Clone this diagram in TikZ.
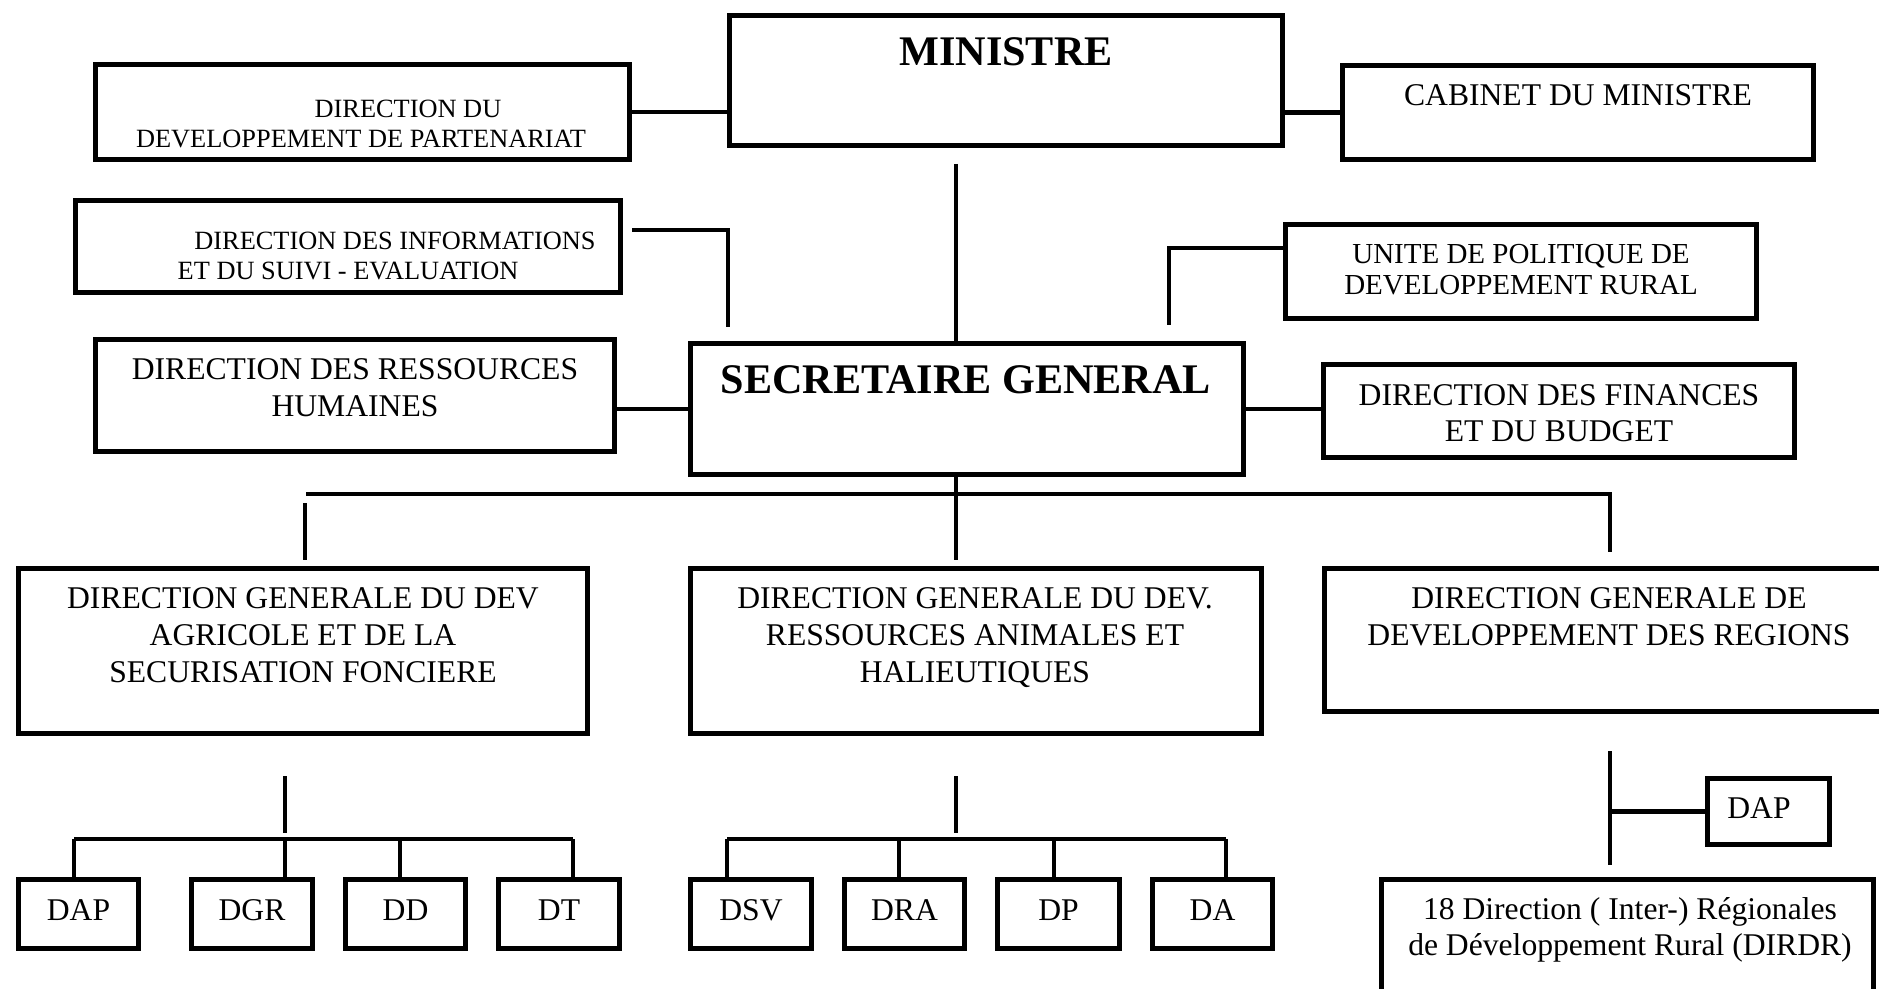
\documentclass[tikz,border=0pt]{standalone}
\usepackage{fontspec}
\setmainfont{Liberation Serif}
\tikzset{box/.style={draw, line width=0.1cm, inner sep=0pt},
 lbl/.style={anchor=base, align=center, inner sep=0pt, font=\fontsize{18}{21}\selectfont},
 titlefnt/.style={font=\fontsize{24}{28}\selectfont\bfseries},
 smallfnt/.style={font=\fontsize{15}{17.6}\selectfont},
 link/.style={draw, line width=0.085cm},
 }

\begin{document}
\begin{tikzpicture}[x=0.02cm, y=-0.02cm]
        \useasboundingbox (0,0) rectangle (1879,989);
        \clip (0,0) rectangle (1879,989);
        % boxes: name/left/top/right/bottom
        \foreach \nm/\xa/\ya/\xb/\yb in {min/727/13/1285/148, ddp/93/62/632/162, cab/1340/63/1816/162,
            dise/73/198/623/295, updr/1283/222/1759/321, sg/688/341/1246/477, drh/93/337/617/454,
            dfb/1321/362/1797/460, dga/16/566/590/736, dgb/688/566/1264/736, dgc/1322/566/1896/714,
            dapa/16/877/141/951, dgr/189/877/315/951, dd/343/877/468/951, dt/496/877/622/951,
            dsv/688/877/814/951, dra/842/877/967/951, dp/995/877/1122/951, da/1150/877/1275/951,
            dapb/1705/776/1832/847, dirdr/1379/877/1876/1010} {
            \node[box, minimum width={(\xb-\xa-5)*0.02cm}, minimum height={(\yb-\ya-5)*0.02cm}]
                (\nm) at ({(\xa+\xb)/2},{(\ya+\yb)/2}) {};
        }
        % texts (base = last line)
        \node[lbl, titlefnt] (min-t) at (1006,66) {MINISTRE};
        \node[lbl, titlefnt] (sg-t) at (966,394) {SECRETAIRE GENERAL};
        \node[lbl, smallfnt] (ddp-t) at (361,148) {\hspace*{1.88cm}DIRECTION DU\\DEVELOPPEMENT DE PARTENARIAT};
        \node[lbl, smallfnt] (dise-t) at (395,280) {DIRECTION DES INFORMATIONS\\ET DU SUIVI - EVALUATION\hspace*{1.88cm}};
        \node[lbl, font=\fontsize{16.5}{18.2}\selectfont] (updr-t) at (1521,295) {UNITE DE POLITIQUE DE\\DEVELOPPEMENT RURAL};
        \node[lbl] (cab-t) at (1578,106) {CABINET DU MINISTRE};
        \node[lbl, font=\fontsize{18}{21.5}\selectfont] (drh-t) at (355,417) {DIRECTION DES RESSOURCES\\HUMAINES};
        \node[lbl] (dfb-t) at (1559,442) {DIRECTION DES FINANCES\\ET DU BUDGET};
        \node[lbl] (dga-t) at (303,682) {DIRECTION GENERALE DU DEV\\AGRICOLE ET DE LA\\SECURISATION FONCIERE};
        \node[lbl] (dgb-t) at (975,682) {DIRECTION GENERALE DU DEV.\\RESSOURCES ANIMALES ET\\HALIEUTIQUES};
        \node[lbl] (dgc-t) at (1609,645) {DIRECTION GENERALE DE\\DEVELOPPEMENT DES REGIONS};
        \node[lbl, font=\fontsize{18}{20.4}\selectfont] (dirdr-t) at (1630,955) {18 Direction ( Inter-) Régionales\\de Développement Rural (DIRDR)};
        \node[lbl] (dapb-t) at (1759,818) {DAP};
        \coordinate (smallbase) at (0,920);
        \foreach \nm/\txt in {dapa/DAP, dgr/DGR, dd/DD, dt/DT, dsv/DSV, dra/DRA, dp/DP, da/DA} {
            \node[lbl] (\nm-t) at (\nm |- smallbase) {\txt};
        }
        % ministre and cabinet
        \draw[link] (ddp.east) -- (ddp.east -| min.west);
        \draw[link] (cab.west) -- (cab.west -| min.east);
        \coordinate (spine) at (956,164);
        \draw[link] (spine) -- (spine |- sg.north);
        % units beside the secretary
        \coordinate (diseA) at (632,230);
        \coordinate (diseB) at (728,327);
        \draw[link] (diseA) -| (diseB);
        \coordinate (updrK) at (1169,248);
        \coordinate (updrE) at (1169,325);
        \draw[link] (updr.west |- updrK) -- (updrK) -- (updrE);
        \draw[link] (sg.west) -- (sg.west -| drh.east);
        \draw[link] (sg.east) -- (sg.east -| dfb.west);
        % general directions
        \coordinate (busL) at (306,494);
        \coordinate (busR) at (1610,494);
        \coordinate (dropA) at (305,503);
        \coordinate (dropB) at (956,560);
        \coordinate (dropC) at (1610,552);
        \draw[link] (busL) -- (busR) -- (dropC);
        \draw[link] (sg.south -| spine) -- (dropB);
        \draw[link] (dropA) -- (dropA |- dropB);
        % sub directions
        \coordinate (stubA) at (285,776);
        \coordinate (stubB) at (956,776);
        \coordinate (busAl) at (74,839);
        \coordinate (busAr) at (573,839);
        \coordinate (busBl) at (727,839);
        \coordinate (busBr) at (1226,839);
        \draw[link] (stubA) -- ([yshift=0.12cm]stubA |- busAl);
        \draw[link] (stubB) -- ([yshift=0.12cm]stubB |- busBl);
        \draw[link] (busAl) -- (busAr);
        \draw[link] (busBl) -- (busBr);
        \foreach \xx/\nm in {74/dapa, 285/dgr, 400/dd, 573/dt, 727/dsv, 899/dra, 1054/dp, 1226/da} {
            \coordinate (k) at (\xx,839);
            \draw[link] (k) -- (k |- \nm.north);
        }
        % regions
        \coordinate (stubC) at (1610,751);
        \coordinate (stubCe) at (1610,865);
        \draw[link] (stubC) -- (stubCe);
        \draw[link] (stubC |- dapb.west) -- (dapb.west);
    \end{tikzpicture}
\end{document}
